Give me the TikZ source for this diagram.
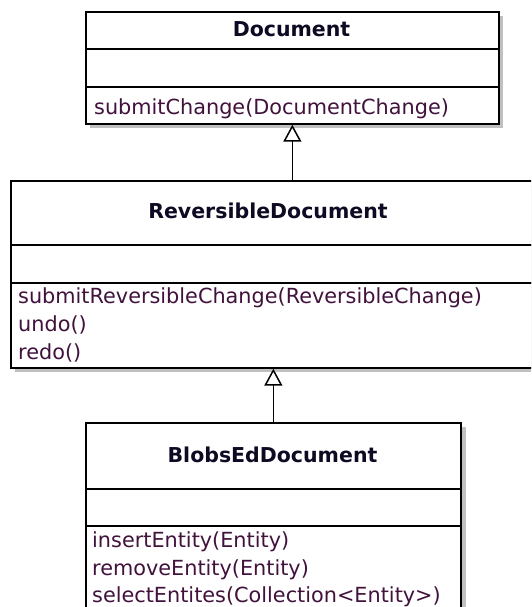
\documentclass[tikz,border=0pt]{standalone}
\usepackage{fontspec}
\setmainfont{DejaVu Sans}
\usetikzlibrary{arrows.meta}
\definecolor{titlecol}{RGB}{15,10,35}
\definecolor{methcol}{RGB}{65,18,60}
\definecolor{shadowcol}{RGB}{192,192,192}
\begin{document}
\begin{tikzpicture}[x=1pt,y=-1pt,
  compart/.style={draw=black,line width=1.7pt,fill=white,rectangle,inner sep=0pt,anchor=north west},
  classtitle/.style={font=\fontsize{20.5}{24}\selectfont\bfseries,text=titlecol,anchor=base,inner sep=0pt},
  meth/.style={font=\fontsize{20.8}{24}\selectfont,text=methcol,anchor=base west,inner sep=0pt},
  inherit/.style={line width=1.5pt,-{Triangle[open,length=17pt,width=18pt,line width=1.5pt]}},
  shadow/.style={fill=shadowcol,draw=none}]
\clip (0,0) rectangle (531,607);
\fill[white] (0,0) rectangle (531,607);
% shadows
\fill[shadow] (90,16) rectangle (503,128);
\fill[shadow] (15,185) rectangle (545,372);
\fill[shadow] (90,427) rectangle (466,650);
% Document
\node[compart,minimum width=413pt,minimum height=37pt] (doct) at (85,11) {};
\node[compart,minimum width=413pt,minimum height=38pt] (doca) at (85,48) {};
\node[compart,minimum width=413pt,minimum height=37pt] (docm) at (85,86) {};
\node[classtitle] (doctx) at (291.5,37) {Document};
\node[meth] (docm1) at (94,114) {submitChange(DocumentChange)};
% ReversibleDocument
\node[compart,minimum width=530pt,minimum height=64pt] (revt) at (10,180) {};
\node[compart,minimum width=530pt,minimum height=38pt] (reva) at (10,244) {};
\node[compart,minimum width=530pt,minimum height=85pt] (revm) at (10,282) {};
\node[classtitle] (revtx) at (268,218) {ReversibleDocument};
\node[meth] (revm1) at (18,303) {submitReversibleChange(ReversibleChange)};
\node[meth] (revm2) at (18,331) {undo()};
\node[meth] (revm3) at (18,359) {redo()};
% BlobsEdDocument
\node[compart,minimum width=375pt,minimum height=66pt] (blt) at (85,422) {};
\node[compart,minimum width=375pt,minimum height=37pt] (bla) at (85,488) {};
\node[compart,minimum width=375pt,minimum height=120pt] (blm) at (85,525) {};
\node[classtitle] (bltx) at (272.5,462) {BlobsEdDocument};
\node[meth] (blm1) at (92,547) {insertEntity(Entity)};
\node[meth] (blm2) at (92,575) {removeEntity(Entity)};
\node[meth] (blm3) at (92,602) {selectEntites(Collection<Entity>)};
% inheritance
\draw[inherit] (docm.south |- revt.north) -- (docm.south);
\draw[inherit] (blt.north) -- (blt.north |- revm.south);
\end{tikzpicture}
\end{document}
